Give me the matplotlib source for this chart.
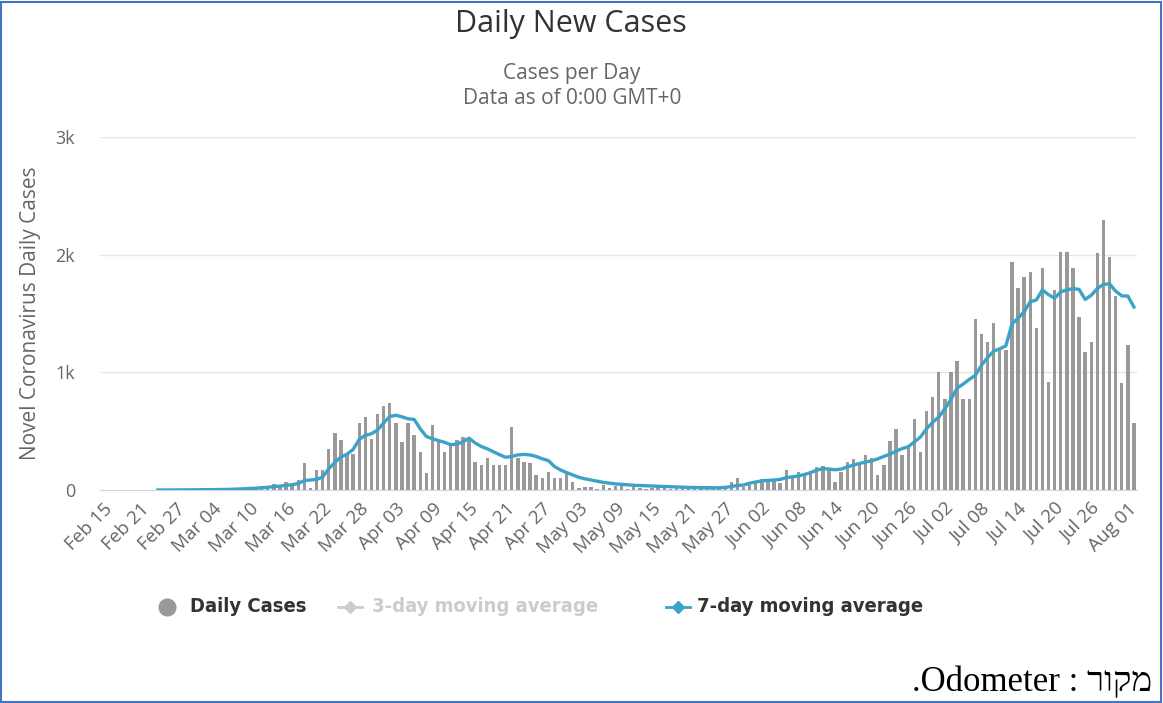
import numpy as np
import pandas as pd
import matplotlib
matplotlib.use("Agg")
import matplotlib.pyplot as plt
from matplotlib.lines import Line2D
from matplotlib.patches import Rectangle

# daily new cases, Feb 15 .. Aug 02
daily_cases = [
    0, 0, 0, 0, 0, 0, 1, 0, 1, 0,
    0, 0, 1, 0, 3, 2, 2, 3, 2, 4,
    4, 4, 9, 11, 25, 17, 34, 33, 48, 37,
    65, 35, 85, 227, 15, 170, 168, 352, 481, 425,
    300, 310, 566, 617, 430, 645, 714, 742, 566, 410,
    566, 467, 326, 142, 552, 410, 326, 382, 425, 450,
    425, 241, 212, 269, 212, 212, 212, 538, 269, 241,
    227, 127, 99, 156, 99, 99, 142, 71, 14, 23,
    23, 10, 42, 17, 35, 60, 12, 25, 20, 7,
    14, 28, 15, 10, 20, 16, 30, 5, 12, 18,
    20, 10, 28, 71, 99, 23, 42, 71, 93, 85,
    85, 57, 170, 113, 156, 136, 156, 198, 207, 170,
    71, 156, 241, 264, 235, 298, 275, 127, 212, 419,
    518, 297, 354, 603, 320, 674, 787, 1000, 773, 1000,
    1098, 773, 773, 1457, 1324, 1254, 1420, 1189, 1189, 1940,
    1714, 1813, 1856, 1380, 1884, 915, 1700, 2026, 2026, 1884,
    1473, 1176, 1261, 2011, 2295, 1983, 1650, 912, 1232, 572,
]

# 7-day moving average as drawn (starts Feb 24)
ma7 = [
    None, None, None, None, None, None, None, None, None, 0,
    0, 0, 1, 1, 1, 2, 2, 3, 3, 4,
    5, 6, 8, 10, 13, 15, 19, 23, 29, 33,
    40, 45, 55, 80, 85, 90, 110, 180, 235, 280,
    305, 345, 430, 465, 478, 510, 570, 625, 635, 622,
    605, 600, 520, 455, 435, 420, 405, 385, 390, 410,
    440, 400, 370, 350, 325, 300, 278, 285, 298, 303,
    298, 285, 265, 250, 200, 170, 148, 128, 108, 95,
    85, 75, 65, 58, 52, 48, 44, 40, 38, 36,
    34, 32, 30, 28, 26, 24, 22, 21, 20, 20,
    19, 19, 22, 30, 38, 42, 58, 68, 78, 82,
    85, 90, 105, 112, 120, 132, 148, 168, 182, 178,
    172, 178, 195, 212, 225, 238, 248, 265, 285, 305,
    330, 352, 368, 408, 450, 520, 575, 620, 690, 770,
    865, 900, 940, 975, 1060, 1125, 1180, 1200, 1225, 1410,
    1460, 1515, 1600, 1615, 1700, 1660, 1630, 1685, 1700, 1712,
    1705, 1620, 1655, 1712, 1748, 1752, 1690, 1650, 1648, 1555,
]

dates = pd.date_range("2020-02-15", periods=len(daily_cases), freq="D")
date_labels = [d.strftime("%b %d") for d in dates]
y_ticks = [0, 1000, 2000, 3000]
y_tick_labels = ["0", "1k", "2k", "3k"]

W, H = 1163, 703
fig = plt.figure(figsize=(W / 100, H / 100), dpi=100)
plt.rcParams["font.family"] = ["Open Sans", "DejaVu Sans"]

ax = fig.add_axes([100 / W, 1 - 490 / H, 1037 / W, 353 / H])
x = np.arange(len(daily_cases))
ax.bar(x, daily_cases, width=0.55, color="#999999", zorder=2)
ax.plot(x, np.array(ma7, dtype=float), color="#3ba3c8", lw=2.4, zorder=3)

ax.set_xlim(-0.5, len(daily_cases) - 0.5)
ax.set_ylim(0, 3000)
ax.set_yticks(y_ticks)
ax.set_yticklabels(y_tick_labels, color="#666666", fontsize=13)
ax.yaxis.grid(True, color="#e6e6e6", lw=1)
ax.set_axisbelow(True)
for s in ["top", "right", "left"]:
    ax.spines[s].set_visible(False)
ax.spines["bottom"].set_color("#ccd6eb")
ax.tick_params(axis="y", length=0, pad=18)
ax.tick_params(axis="x", length=0, pad=7)
ax.set_xticks(x[::6])
ax.set_xticklabels(date_labels[::6], rotation=45, ha="right",
                   rotation_mode="anchor", color="#666666", fontsize=13.5)
ax.set_ylabel("Novel Coronavirus Daily Cases", color="#666666",
              fontsize=15, labelpad=10)

fig.text(571 / W, 1 - 24 / H, "Daily New Cases", ha="center", va="center",
         fontsize=22, color="#333333")
fig.text(572 / W, 1 - 73 / H, "Cases per Day", ha="center", va="center",
         fontsize=15, color="#666666")
fig.text(572 / W, 1 - 99 / H, "Data as of 0:00 GMT+0", ha="center",
         va="center", fontsize=15, color="#666666")

# legend drawn by hand
leg_y = 1 - 607 / H
leg_kw = dict(va="center", fontsize=14.5, weight="bold",
              family=["DejaVu Sans"], fontstretch="condensed")
fig.add_artist(Line2D([167 / W], [leg_y], marker="o", ms=12,
                      color="#999999", ls="none"))
fig.text(190 / W, leg_y, "Daily Cases", color="#333333", **leg_kw)
fig.add_artist(Line2D([338 / W, 362 / W], [leg_y, leg_y], color="#cccccc",
                      lw=2))
fig.add_artist(Line2D([350 / W], [leg_y], marker="D", ms=6,
                      color="#cccccc", ls="none"))
fig.text(372 / W, leg_y, "3-day moving average", color="#cccccc", **leg_kw)
fig.add_artist(Line2D([666 / W, 690 / W], [leg_y, leg_y], color="#3ba3c8",
                      lw=2))
fig.add_artist(Line2D([678 / W], [leg_y], marker="D", ms=6,
                      color="#3ba3c8", ls="none"))
fig.text(697 / W, leg_y, "7-day moving average", color="#333333", **leg_kw)

# source note (Hebrew word in visual order)
fig.text(1152 / W, 1 - 683 / H, ".Odometer : " + "מקור"[::-1], ha="right",
         va="center", fontsize=25, color="#000000",
         family=["Liberation Serif", "DejaVu Serif"])

fig.add_artist(Rectangle((1 / W, 1 / H), 1 - 3 / W, 1 - 3 / H,
                         fill=False, ec="#4472c4", lw=1.5))

fig.savefig("out.png", dpi=100)
